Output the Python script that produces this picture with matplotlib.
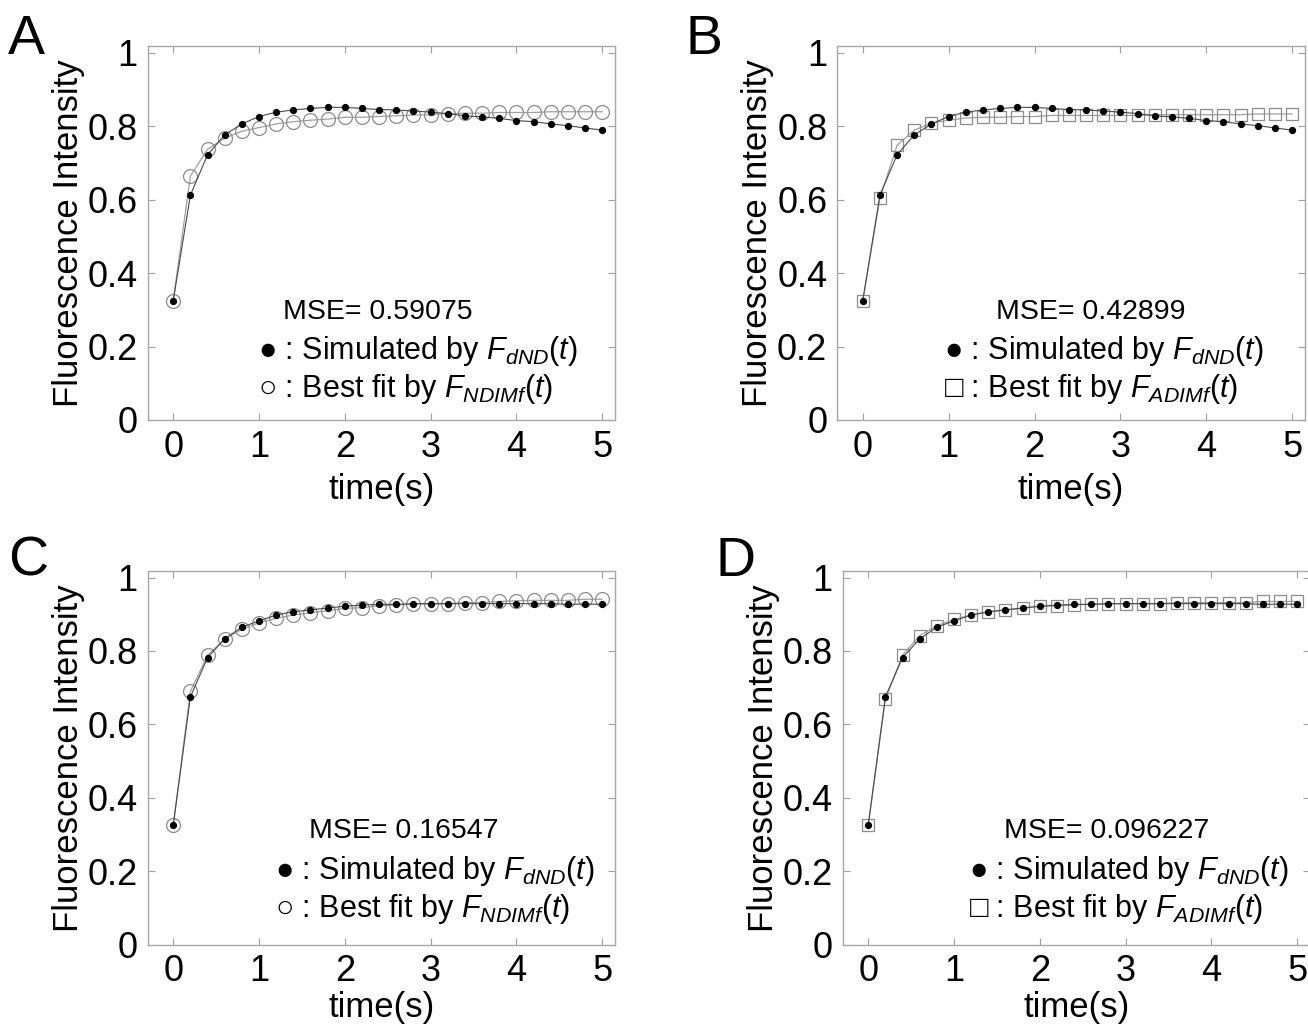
import numpy as np
import matplotlib
matplotlib.use("Agg")
import matplotlib.pyplot as plt

plt.rcParams['font.family'] = ['Liberation Sans', 'DejaVu Sans']
plt.rcParams['mathtext.fontset'] = 'custom'
plt.rcParams['mathtext.rm'] = 'Liberation Sans'
plt.rcParams['mathtext.it'] = 'Liberation Sans:italic'

# time points (s)
t = [0, 0.2, 0.4, 0.6, 0.8, 1.0, 1.2, 1.4, 1.6, 1.8, 2.0, 2.2, 2.4,
     2.6, 2.8, 3.0, 3.2, 3.4, 3.6, 3.8, 4.0, 4.2, 4.4, 4.6, 4.8, 5.0]

# simulated by F_dND(t), panels A/B
sim_ab = [0.325, 0.612, 0.722, 0.776, 0.806, 0.826, 0.838, 0.844, 0.848,
          0.851, 0.851, 0.848, 0.845, 0.844, 0.841, 0.838, 0.834, 0.828,
          0.825, 0.821, 0.815, 0.812, 0.806, 0.801, 0.795, 0.789]
# best fits, panels A (NDIMf) and B (ADIMf)
fit_a = [0.325, 0.664, 0.737, 0.767, 0.786, 0.796, 0.806, 0.812, 0.816,
         0.819, 0.824, 0.824, 0.826, 0.828, 0.830, 0.831, 0.834, 0.835,
         0.835, 0.837, 0.837, 0.837, 0.839, 0.839, 0.839, 0.839]
fit_b = [0.325, 0.604, 0.748, 0.789, 0.808, 0.816, 0.822, 0.824, 0.824,
         0.826, 0.826, 0.829, 0.829, 0.829, 0.829, 0.829, 0.829, 0.831,
         0.831, 0.831, 0.831, 0.831, 0.831, 0.833, 0.833, 0.833]

# simulated by F_dND(t), panels C/D
sim_cd = [0.325, 0.675, 0.782, 0.833, 0.865, 0.882, 0.898, 0.907, 0.912,
          0.917, 0.922, 0.925, 0.927, 0.927, 0.929, 0.929, 0.929, 0.929,
          0.929, 0.929, 0.929, 0.929, 0.929, 0.927, 0.928, 0.927]
fit_c = [0.325, 0.690, 0.788, 0.833, 0.859, 0.877, 0.889, 0.898, 0.904,
         0.910, 0.916, 0.918, 0.923, 0.925, 0.928, 0.928, 0.929, 0.932,
         0.932, 0.935, 0.937, 0.938, 0.938, 0.938, 0.941, 0.941]
fit_d = [0.325, 0.668, 0.789, 0.842, 0.869, 0.886, 0.898, 0.906, 0.912,
         0.917, 0.922, 0.923, 0.925, 0.928, 0.928, 0.929, 0.929, 0.929,
         0.932, 0.932, 0.932, 0.932, 0.932, 0.935, 0.935, 0.935]

mse = ['0.59075', '0.42899', '0.16547', '0.096227']
letters = ['A', 'B', 'C', 'D']
fit_names = ['NDIMf', 'ADIMf', 'NDIMf', 'ADIMf']
fit_syms = ['○', '□', '○', '□']
fit_markers = ['o', 's', 'o', 's']

W, H = 1308, 1025
fig = plt.figure(figsize=(W / 100, H / 100), dpi=100)

# axes boxes in pixels: left, top, right, bottom
boxes = [(147.5, 46, 615, 420), (837, 46, 1305, 420),
         (147.5, 571, 615, 944.5), (842.5, 571, 1310, 944.5)]
xlabel_pad = [6, 6, 1, 1]
letter_pos = [(8, 14), (686, 14), (8, 536), (716, 536)]
# text anchor positions in data coords: (mse x, mse y, sym x, line1 y, line2 y)
txt_pos = [(2.39, 0.293, 0.99, 0.188, 0.085),
           (2.66, 0.293, 0.95, 0.188, 0.085),
           (2.69, 0.308, 1.19, 0.201, 0.097),
           (2.78, 0.308, 1.17, 0.201, 0.097)]

sims = [sim_ab, sim_ab, sim_cd, sim_cd]
fits = [fit_a, fit_b, fit_c, fit_d]

for i in range(4):
    l, tp, r, b = boxes[i]
    ax = fig.add_axes([l / W, 1 - b / H, (r - l) / W, (b - tp) / H])
    ax.plot(t, fits[i], '-', color='#a0a0a0', lw=0.9, marker=fit_markers[i],
            ms=10 if fit_markers[i] == 'o' else 9, mfc='none', mec='#8c8c8c', mew=0.9)
    ax.plot(t, sims[i], '-', color='#4a4a4a', lw=0.8, marker='o', ms=4.2,
            mfc='black', mec='black')
    ax.set_xlim(-0.3, 5.15)
    ax.set_ylim(0, 1.018)
    ax.set_xticks([0, 1, 2, 3, 4, 5])
    ax.set_yticks([0, 0.2, 0.4, 0.6, 0.8, 1])
    ax.set_yticklabels(['0', '0.2', '0.4', '0.6', '0.8', '1'])
    ax.tick_params(direction='in', length=5, width=0.8, color='#a0a0a0',
                   top=True, right=True, labelsize=26, pad=7)
    for s in ax.spines.values():
        s.set_color('#a8a8a8')
        s.set_linewidth(1.0)
    ax.set_xlabel('time(s)', fontsize=25, labelpad=xlabel_pad[i])
    ax.set_ylabel('Fluorescence Intensity', fontsize=25, labelpad=2)

    mx, my, sx, y1, y2 = txt_pos[i]
    ax.text(mx, my, 'MSE= ' + mse[i], fontsize=20.5, ha='center', va='center')
    ax.text(sx, y1, '● : Simulated by $F_{dND}(t)$', fontsize=22, ha='left', va='center')
    ax.text(sx, y2, fit_syms[i] + ' : Best fit by $F_{' + fit_names[i] + '}(t)$',
            fontsize=22, ha='left', va='center')

    lx, ly = letter_pos[i]
    fig.text(lx / W, 1 - ly / H, letters[i], fontsize=40, ha='left', va='top')

fig.savefig('out.png', dpi=100)
